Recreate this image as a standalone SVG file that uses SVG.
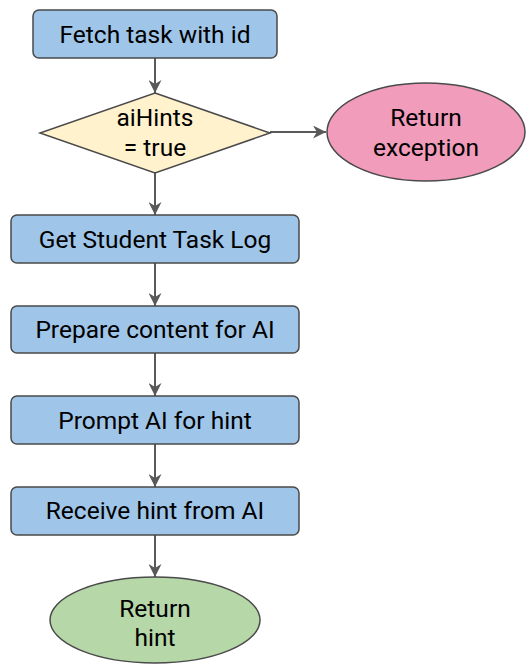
<svg xmlns="http://www.w3.org/2000/svg" width="527" height="664" viewBox="0 0 527 664">
<style>
.box{fill:#9fc5e8;stroke:#4a4a4a;stroke-width:1.5}
.dia{fill:#fff2cc;stroke:#4a4a4a;stroke-width:1.5}
.pink{fill:#f19cbb;stroke:#4a4a4a;stroke-width:1.5}
.green{fill:#b6d7a8;stroke:#4a4a4a;stroke-width:1.5}
.t{font-family:Roboto,"Liberation Sans",sans-serif;font-size:24.5px;fill:#000;text-anchor:middle}
.c{stroke:#595959;stroke-width:2;fill:none;marker-end:url(#ah)}
</style>
<defs>
<marker id="ah" viewBox="0 0 10 10" refX="10" refY="5" markerWidth="6.5" markerHeight="6.5" markerUnits="strokeWidth" orient="auto">
<path d="M0,0 L10,5 L0,10 L3,5 Z" fill="#595959"/>
</marker>
</defs>
<rect width="527" height="664" fill="#fff"/>
<g id="connectors">
<line class="c" x1="155" y1="58" x2="155" y2="93"/>
<line class="c" x1="270" y1="132" x2="326" y2="132"/>
<line class="c" x1="155" y1="173" x2="155" y2="215"/>
<line class="c" x1="155" y1="263" x2="155" y2="306"/>
<line class="c" x1="155" y1="353" x2="155" y2="396"/>
<line class="c" x1="155" y1="444" x2="155" y2="487"/>
<line class="c" x1="155" y1="535" x2="155" y2="577"/>
</g>
<g id="fetch">
<rect class="box" x="33" y="10" width="244" height="48" rx="6"/>
<text class="t" x="155" y="43">Fetch task with id</text>
</g>
<g id="decision">
<polygon class="dia" points="155,93 270,133 155,173 40,133"/>
<text class="t" x="155" y="126">aiHints</text>
<text class="t" x="155" y="156">= true</text>
</g>
<g id="exception">
<ellipse class="pink" cx="426" cy="132" rx="99" ry="49"/>
<text class="t" x="426" y="126">Return</text>
<text class="t" x="426" y="156">exception</text>
</g>
<g id="log">
<rect class="box" x="11" y="215" width="288" height="48" rx="6"/>
<text class="t" x="155" y="248">Get Student Task Log</text>
</g>
<g id="prepare">
<rect class="box" x="11" y="306" width="288" height="47" rx="6"/>
<text class="t" x="155" y="338">Prepare content for AI</text>
</g>
<g id="prompt">
<rect class="box" x="11" y="396" width="288" height="48" rx="6"/>
<text class="t" x="155" y="429">Prompt AI for hint</text>
</g>
<g id="receive">
<rect class="box" x="11" y="487" width="288" height="48" rx="6"/>
<text class="t" x="155" y="519">Receive hint from AI</text>
</g>
<g id="hint">
<ellipse class="green" cx="155" cy="620" rx="105" ry="43"/>
<text class="t" x="155" y="617">Return</text>
<text class="t" x="155" y="646">hint</text>
</g>
</svg>
